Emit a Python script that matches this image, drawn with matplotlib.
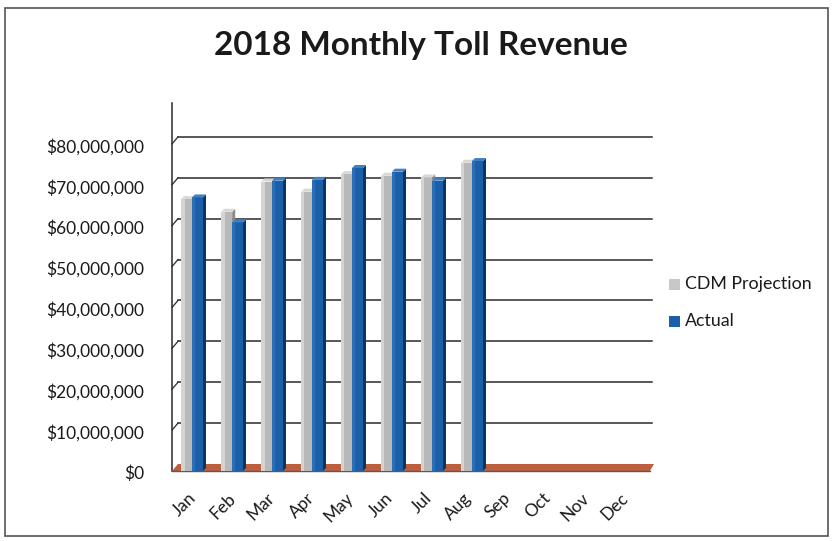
import matplotlib.pyplot as plt
from matplotlib.patches import Polygon, Rectangle

months = ["Jan", "Feb", "Mar", "Apr", "May", "Jun",
          "Jul", "Aug", "Sep", "Oct", "Nov", "Dec"]
cdm_projection = [66.5e6, 63.4e6, 70.8e6, 68.3e6, 72.6e6, 72.2e6,
                  71.8e6, 75.4e6, 0, 0, 0, 0]
actual = [66.9e6, 60.8e6, 71.0e6, 71.2e6, 74.1e6, 73.2e6,
          71.0e6, 75.8e6, 0, 0, 0, 0]
tick_values = [0, 10e6, 20e6, 30e6, 40e6, 50e6, 60e6, 70e6, 80e6]

W, H = 833, 541
fig = plt.figure(figsize=(W / 100, H / 100), dpi=100)
font = ["Lato", "DejaVu Sans"]

# plot area in pixels: x 172..652, y 103..471
ax = fig.add_axes([172 / W, (H - 471) / H, 480 / W, 368 / H])
ax.set_xlim(-0.5, 11.5)
ax.set_ylim(0, 90e6)
for s in ax.spines.values():
    s.set_visible(False)
ax.set_xticks([])
ax.set_yticks([])

px_x = 1 / 40.0          # data units per pixel (x)
px_y = 90e6 / 368.0      # data units per pixel (y)
dx, dy = 6 * px_x, 7 * px_y   # depth offset of the back wall

# back wall gridlines with little diagonal connectors to the axis
for v in tick_values[1:]:
    ax.plot([-0.5 + dx, 11.5], [v + dy, v + dy], color="#2a2a2a",
            lw=1.1, clip_on=False, zorder=1)
    ax.plot([-0.5, -0.5 + dx], [v, v + dy], color="#2a2a2a", lw=0.9,
            clip_on=False, zorder=1)
for v in tick_values:
    ax.text(-0.5 - 28 * px_x, v - 3 * px_y, f"${v:,.0f}", ha="right",
            va="center", fontsize=12.5, family=font, color="#1a1a1a")

# left axis line
ax.plot([-0.5, -0.5], [0, 90e6], color="#2a2a2a", lw=1.1, clip_on=False, zorder=2)

# floor
floor = Polygon([(-0.5, 0), (11.5 - 2 * px_x, 0), (11.5 + 2 * px_x, dy),
                 (-0.5 + dx, dy)], closed=True, facecolor="#bd5f3e",
                edgecolor="none", zorder=2, clip_on=False)
ax.add_patch(floor)
ax.plot([-0.5, 11.5 - 2 * px_x], [0, 0], color="#5a5a5a", lw=1.0,
        clip_on=False, zorder=3)


def column(x0, width, value, front, side, top, light):
    if value <= 0:
        return
    sx, sy = 3 * px_x, 3 * px_y
    ax.add_patch(Rectangle((x0, 0), width, value, facecolor=front,
                           edgecolor="none", zorder=4))
    ax.add_patch(Rectangle((x0, 0), width * 0.3, value, facecolor=light,
                           edgecolor="none", zorder=4))
    ax.add_patch(Polygon([(x0 + width, 0), (x0 + width + sx, sy),
                          (x0 + width + sx, value + sy), (x0 + width, value)],
                         closed=True, facecolor=side, edgecolor="none", zorder=4))
    ax.add_patch(Polygon([(x0, value), (x0 + sx, value + sy),
                          (x0 + width + sx, value + sy), (x0 + width, value)],
                         closed=True, facecolor=top, edgecolor="none", zorder=4))


bar_w = 11 * px_x
for i in range(len(months)):
    column(i - 0.27, bar_w, cdm_projection[i], "#b8b8b8", "#8a8a8a", "#d8d8d8", "#d4d4d4")
    column(i + 0.0, bar_w, actual[i], "#1a5fa8", "#0c3566", "#3f7fc4", "#2b6fb8")

# month labels, slightly compressed by the perspective of the floor
for i, m in enumerate(months):
    xpix = 188 + 39.3 * i
    ax.text(-0.5 + (xpix - 172) * px_x, -19 * px_y, m, rotation=45,
            ha="right", va="top", rotation_mode="anchor", fontsize=12.5,
            family=font, color="#1a1a1a")

fig.text(421 / W, 1 - 46 / H, "2018 Monthly Toll Revenue", ha="center",
         va="center", fontsize=24, fontweight="bold", family=font, color="#1a1a1a")

# legend
fig.patches.append(Rectangle((669 / W, 1 - 290 / H), 11 / W, 11 / H,
                             facecolor="#c8c8c8", edgecolor="none",
                             transform=fig.transFigure))
fig.patches.append(Rectangle((669 / W, 1 - 327 / H), 11 / W, 11 / H,
                             facecolor="#1a5fa8", edgecolor="none",
                             transform=fig.transFigure))
fig.text(685 / W, 1 - 284 / H, "CDM Projection", ha="left", va="center",
         fontsize=12.8, family=font, color="#1a1a1a")
fig.text(685 / W, 1 - 321 / H, "Actual", ha="left", va="center",
         fontsize=12.8, family=font, color="#1a1a1a")

# chart border
fig.patches.append(Rectangle((5 / W, 1 - 536 / H), 823 / W, 528 / H,
                             facecolor="none", edgecolor="#555555", lw=1.2,
                             transform=fig.transFigure))

fig.savefig("out.png", dpi=100)
